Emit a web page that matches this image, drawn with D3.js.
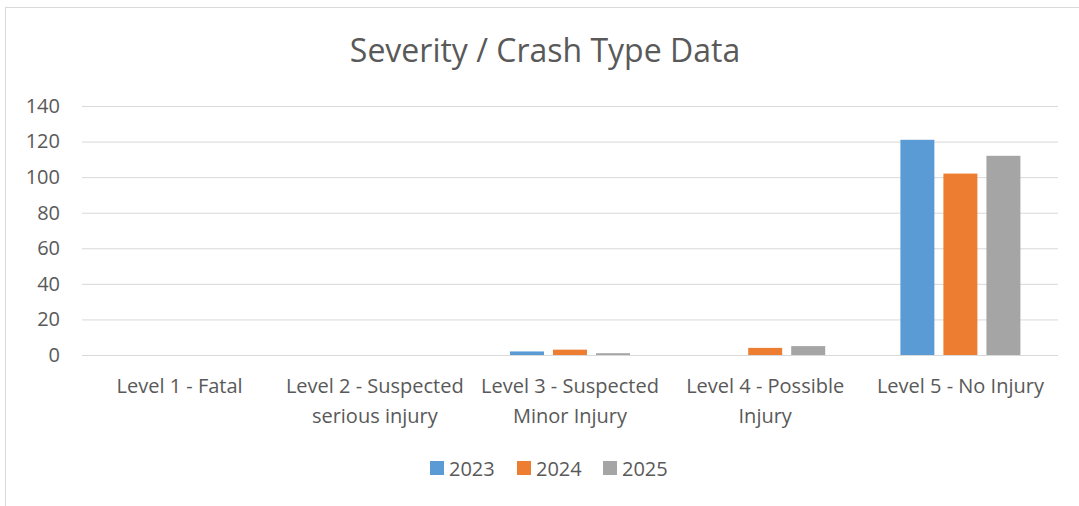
<!DOCTYPE html>
<html>
<head>
<meta charset="utf-8">
<script src="https://cdn.jsdelivr.net/npm/d3@7"></script>
<style>
  body { margin: 0; background: #fff; }
  text { font-family: "Open Sans", Lato, sans-serif; fill: #595959; }
</style>
</head>
<body>
<div id="the_chart"></div>
<script>
var categories = [["Level 1 - Fatal"], ["Level 2 - Suspected", "serious injury"],
  ["Level 3 - Suspected", "Minor Injury"], ["Level 4 - Possible", "Injury"], ["Level 5 - No Injury"]];
var years = ["2023", "2024", "2025"];
var values2023 = [0, 0, 2, 0, 121];
var values2024 = [0, 0, 3, 4, 102];
var values2025 = [0, 0, 1, 5, 112];
var yticks = [0, 20, 40, 60, 80, 100, 120, 140];
var colors = ["#5b9bd5", "#ed7d31", "#a5a5a5"];

var series = [values2023, values2024, values2025];

var w = 1079, h = 506;
var svg = d3.select("#the_chart").append("svg")
    .attr("width", w)
    .attr("height", h);

// chart frame
svg.append("rect")
    .attr("x", 5.5).attr("y", 7.5)
    .attr("width", w).attr("height", h)
    .attr("fill", "none")
    .attr("stroke", "#d9d9d9");

svg.append("text")
    .attr("x", 545).attr("y", 62)
    .attr("text-anchor", "middle")
    .style("font-size", "32px")
    .text("Severity / Crash Type Data");

var pLeft = 82, pRight = 1058, pTop = 106, pBottom = 355;

var yscale = d3.scaleLinear().domain([0, 140]).range([pBottom, pTop]);
var x0 = d3.scaleBand().domain(d3.range(categories.length)).range([pLeft, pRight]);
var x1 = d3.scaleBand().domain(years).range([0, 120]).paddingInner(0.21);

// gridlines
svg.append("g")
    .attr("transform", "translate(" + pLeft + ",0)")
    .call(d3.axisLeft(yscale).tickValues(yticks).tickSize(-(pRight - pLeft)).tickPadding(22))
    .call(function (g) {
        g.select(".domain").remove();
        g.selectAll("line").attr("stroke", "#d9d9d9").attr("stroke-width", 1);
        g.selectAll("text").style("font-size", "20px").attr("fill", "#595959");
    });

var groups = svg.selectAll(".grp")
    .data(categories)
  .enter().append("g")
    .attr("transform", function (d, i) {
        return "translate(" + (x0(i) + x0.bandwidth() / 2 - 60) + ",0)";
    });

groups.selectAll("rect")
    .data(function (d, i) { return series.map(function (s, k) { return { year: years[k], v: s[i], k: k }; }); })
  .enter().append("rect")
    .attr("x", function (d) { return x1(d.year); })
    .attr("width", x1.bandwidth())
    .attr("y", function (d) { return yscale(d.v); })
    .attr("height", function (d) { return pBottom - yscale(d.v); })
    .attr("fill", function (d) { return colors[d.k]; });

// category labels
var xlab = svg.selectAll(".xlab")
    .data(categories)
  .enter().append("text")
    .attr("text-anchor", "middle")
    .style("font-size", "20px")
    .attr("transform", function (d, i) {
        return "translate(" + (x0(i) + x0.bandwidth() / 2) + ",393)";
    });
xlab.selectAll("tspan")
    .data(function (d) { return d; })
  .enter().append("tspan")
    .attr("x", 0)
    .attr("dy", function (d, j) { return j === 0 ? 0 : 30; })
    .text(function (d) { return d; });

// legend
var legend = svg.append("g").attr("transform", "translate(430,461)");
var lx = [0, 87, 173];
years.forEach(function (y, k) {
    legend.append("rect")
        .attr("x", lx[k]).attr("y", 0)
        .attr("width", 14).attr("height", 14)
        .attr("fill", colors[k]);
    legend.append("text")
        .attr("x", lx[k] + 19).attr("y", 15)
        .style("font-size", "20px")
        .text(y);
});
</script>
</body>
</html>
